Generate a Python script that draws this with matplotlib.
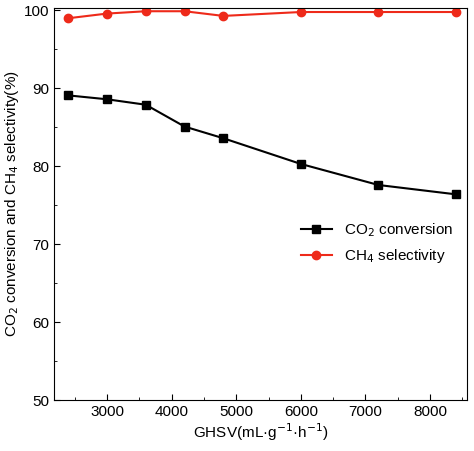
import matplotlib
matplotlib.use("Agg")
import matplotlib.pyplot as plt
from matplotlib.ticker import MultipleLocator

plt.rcParams['font.family'] = ['Liberation Sans', 'DejaVu Sans']
ghsv = [2400, 3000, 3600, 4200, 4800, 6000, 7200, 8400]
co2_conv = [89.1, 88.6, 87.9, 85.1, 83.6, 80.3, 77.6, 76.4]
ch4_sel = [99.0, 99.6, 99.9, 99.9, 99.3, 99.8, 99.8, 99.8]

fig = plt.figure(figsize=(4.74, 4.51), dpi=100)
ax = fig.add_axes([0.114, 0.113, 0.871, 0.869])
ax.plot(ghsv, co2_conv, '-s', color='black', ms=6, lw=1.5, label='CO$_2$ conversion')
ax.plot(ghsv, ch4_sel, '-o', color='#ee2a1a', ms=6, lw=1.5, label='CH$_4$ selectivity')
ax.set_xlim(2180, 8570)
ax.set_ylim(50, 100.3)
ax.xaxis.set_major_locator(MultipleLocator(1000))
ax.xaxis.set_minor_locator(MultipleLocator(500))
ax.yaxis.set_major_locator(MultipleLocator(10))
ax.yaxis.set_minor_locator(MultipleLocator(5))
ax.tick_params(which='both', direction='in', labelsize=11)
ax.tick_params(which='major', length=4)
ax.tick_params(which='minor', length=2)
ax.set_xlabel('GHSV(mL·g$^{-1}$·h$^{-1}$)', fontsize=11, labelpad=2)
ax.set_ylabel('CO$_2$ conversion and CH$_4$ selectivity(%)', fontsize=11, labelpad=2)
ax.legend(loc='center right', bbox_to_anchor=(1.0, 0.40), frameon=False, fontsize=11)
fig.savefig('out.png', dpi=100)
